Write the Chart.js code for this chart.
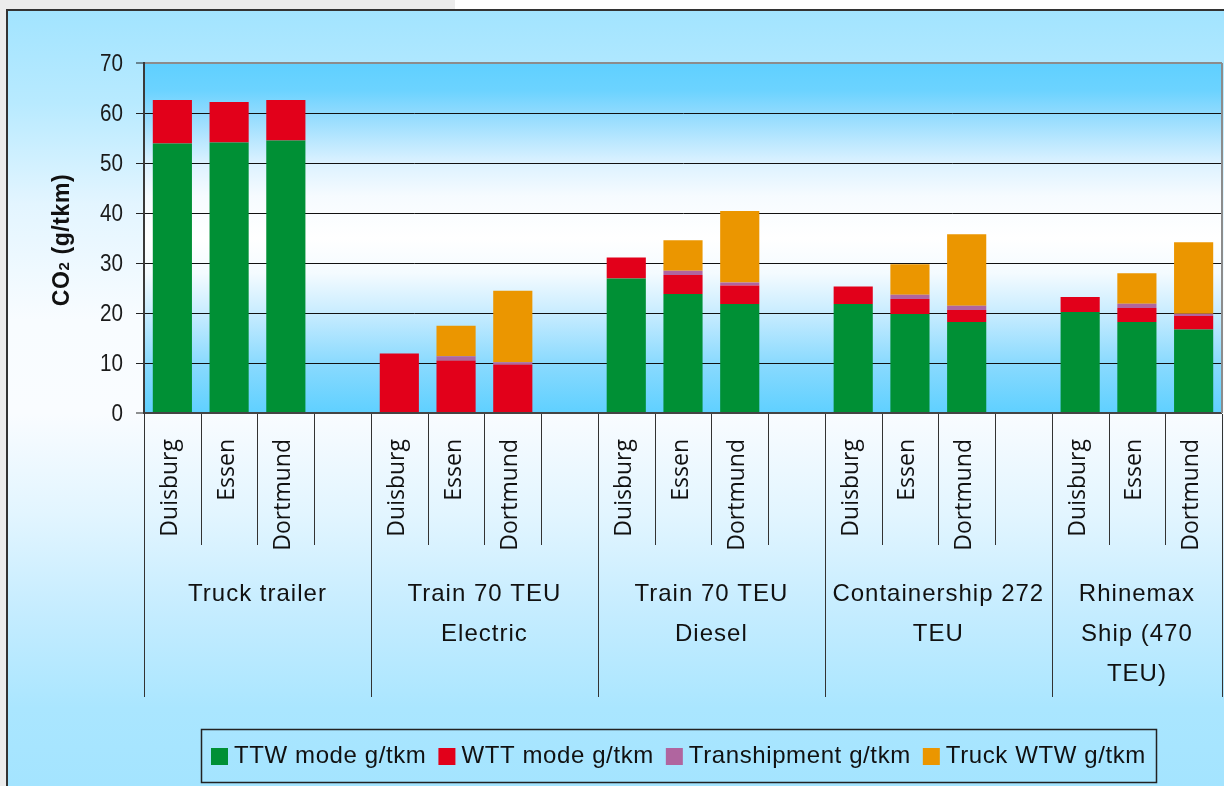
<!DOCTYPE html>
<html>
<head>
<meta charset="utf-8">
<title>CO2 per tkm by transport mode</title>
<script src="https://cdn.jsdelivr.net/npm/chart.js@4.4.1/dist/chart.umd.min.js"></script>
<style>
  html, body { margin: 0; padding: 0; background: #ececec; }
  canvas { display: block; }
</style>
</head>
<body>
<canvas id="co2-chart" width="1224" height="786"></canvas>
<script>
// Categories: one slot per terminal city, '' is the empty slot between modes
const cities = [
  'Duisburg', 'Essen', 'Dortmund', '',
  'Duisburg', 'Essen', 'Dortmund', '',
  'Duisburg', 'Essen', 'Dortmund', '',
  'Duisburg', 'Essen', 'Dortmund', '',
  'Duisburg', 'Essen', 'Dortmund'
];

// Transport modes (multi-line labels) and how many slots each one spans
const modes = [
  ['Truck trailer'],
  ['Train 70 TEU', 'Electric'],
  ['Train 70 TEU', 'Diesel'],
  ['Containership 272', 'TEU'],
  ['Rhinemax', 'Ship (470', 'TEU)']
];
const modeSlots = [4, 4, 4, 4, 3];

// Series
const seriesNames = ['TTW mode g/tkm', 'WTT mode g/tkm', 'Transhipment g/tkm', 'Truck WTW g/tkm'];
const ttwValues = [53.9, 54.1, 54.5, null, 0, 0, 0, null, 26.9, 23.8, 21.8, null, 21.8, 19.8, 18.2, null, 20.2, 18.2, 16.7];
const wttValues = [8.7, 8.1, 8.1, null, 11.9, 10.5, 9.7, null, 4.2, 3.8, 3.7, null, 3.5, 3.0, 2.4, null, 3.0, 2.8, 2.7];
const transhipValues = [0, 0, 0, null, 0, 0.85, 0.45, null, 0, 0.85, 0.6, null, 0, 0.85, 0.85, null, 0, 0.85, 0.45];
const truckWtwValues = [0, 0, 0, null, 0, 6.1, 14.3, null, 0, 6.1, 14.3, null, 0, 6.1, 14.3, null, 0, 6.1, 14.3];

const yTicks = [0, 10, 20, 30, 40, 50, 60, 70];

const seriesColors = ['#009035', '#e2001a', '#b0659f', '#eb9600'];

const FONT = '"Liberation Sans", Arial, sans-serif';

// Backgrounds: page, outer frame and plot area gradients
const backgroundPlugin = {
  id: 'backgrounds',
  beforeDraw(chart) {
    const { ctx, chartArea: area, width, height } = chart;
    ctx.save();
    ctx.fillStyle = '#ececec';
    ctx.fillRect(0, 0, width, height);
    ctx.fillStyle = '#ffffff';
    ctx.fillRect(455, 0, width - 455, 10);

    // outer frame
    const outer = ctx.createLinearGradient(0, 10, 0, height);
    outer.addColorStop(0, '#a2e4ff');
    outer.addColorStop(0.12, '#b8eaff');
    outer.addColorStop(0.25, '#e3f5ff');
    outer.addColorStop(0.4, '#f8fcff');
    outer.addColorStop(0.52, '#f9fcff');
    outer.addColorStop(0.65, '#e2f5ff');
    outer.addColorStop(0.78, '#c4ecff');
    outer.addColorStop(0.9, '#aae6ff');
    outer.addColorStop(1, '#a4e4ff');
    ctx.fillStyle = outer;
    ctx.fillRect(7, 10, width, height);
    ctx.strokeStyle = '#333';
    ctx.lineWidth = 2;
    ctx.strokeRect(7, 10, width + 10, height + 10);

    // plot area
    const plot = ctx.createLinearGradient(0, area.top, 0, area.bottom);
    plot.addColorStop(0, '#5fd0ff');
    plot.addColorStop(0.08, '#6cd3ff');
    plot.addColorStop(0.143, '#8fdafe');
    plot.addColorStop(0.286, '#dcf2ff');
    plot.addColorStop(0.38, '#f6fbff');
    plot.addColorStop(0.5, '#ffffff');
    plot.addColorStop(0.6, '#f4fbff');
    plot.addColorStop(0.714, '#c8ecff');
    plot.addColorStop(0.857, '#8adafe');
    plot.addColorStop(1, '#5fd0ff');
    ctx.fillStyle = plot;
    ctx.fillRect(area.left, area.top, area.right - area.left, area.bottom - area.top);
    ctx.restore();
  }
};

// Two-level category axis, condensed y labels, y title and boxed legend
const labelsPlugin = {
  id: 'labels',
  afterDraw(chart) {
    const { ctx, chartArea: area } = chart;
    const xs = chart.scales.x;
    const ys = chart.scales.y;
    const half = (xs.getPixelForValue(1) - xs.getPixelForValue(0)) / 2;
    const edge = (i) => i < cities.length ? xs.getPixelForValue(i) - half : xs.getPixelForValue(cities.length - 1) + half;

    ctx.save();

    // right border of the plot
    ctx.strokeStyle = '#8c8c8c';
    ctx.lineWidth = 2;
    ctx.beginPath();
    ctx.moveTo(area.right, area.top);
    ctx.lineTo(area.right, area.bottom);
    ctx.stroke();

    // y tick labels, narrow
    ctx.fillStyle = '#1a1a1a';
    ctx.font = '24px ' + FONT;
    ctx.textAlign = 'right';
    ctx.textBaseline = 'middle';
    yTicks.forEach(v => {
      ctx.save();
      ctx.translate(123, ys.getPixelForValue(v) + 1);
      ctx.scale(0.86, 1);
      ctx.fillText(String(v), 0, 0);
      ctx.restore();
    });

    // separators
    const groupEdges = [0];
    modeSlots.forEach(n => groupEdges.push(groupEdges[groupEdges.length - 1] + n));
    ctx.strokeStyle = '#333';
    ctx.lineWidth = 1;
    for (let i = 0; i <= cities.length; i++) {
      const x = Math.round(edge(i)) + 0.5;
      ctx.beginPath();
      ctx.moveTo(x, area.bottom + 1);
      ctx.lineTo(x, groupEdges.includes(i) ? 697 : 545);
      ctx.stroke();
    }

    // city labels, reading bottom to top
    ctx.fillStyle = '#111';
    ctx.font = '23px "Open Sans", sans-serif';
    ctx.textAlign = 'right';
    ctx.textBaseline = 'middle';
    cities.forEach((city, i) => {
      if (!city) return;
      ctx.save();
      ctx.translate(xs.getPixelForValue(i) - 2, 439);
      ctx.rotate(-Math.PI / 2);
      ctx.fillText(city, 0, 0);
      ctx.restore();
    });

    // mode labels
    ctx.font = '24px ' + FONT;
    ctx.letterSpacing = '1px';
    ctx.textAlign = 'center';
    ctx.textBaseline = 'alphabetic';
    modes.forEach((lines, g) => {
      const cx = (edge(groupEdges[g]) + edge(groupEdges[g + 1])) / 2;
      lines.forEach((line, k) => ctx.fillText(line, cx, 601 + 40 * k));
    });

    // y axis title: CO2 (g/tkm)
    ctx.save();
    ctx.translate(69, 240);
    ctx.rotate(-Math.PI / 2);
    ctx.letterSpacing = '0.6px';
    ctx.textAlign = 'left';
    const parts = [
      { t: 'CO', f: 'bold 23px ' + FONT, dy: 0 },
      { t: '2', f: 'bold 15px ' + FONT, dy: 0 },
      { t: ' (g/tkm)', f: 'bold 23px ' + FONT, dy: 0 }
    ];
    let total = 0;
    parts.forEach(p => { ctx.font = p.f; p.w = ctx.measureText(p.t).width; total += p.w; });
    let tx = -total / 2;
    parts.forEach(p => { ctx.font = p.f; ctx.fillText(p.t, tx, p.dy); tx += p.w; });
    ctx.restore();

    // legend
    ctx.font = '24px ' + FONT;
    ctx.letterSpacing = '0.6px';
    ctx.textAlign = 'left';
    const sq = 17, gapText = 6, gapItem = 12;
    const widths = chart.data.datasets.map(ds => ctx.measureText(ds.label).width);
    const content = widths.reduce((a, w) => a + sq + gapText + w, 0) + gapItem * (widths.length - 1);
    const boxLeft = 201;
    const boxW = Math.round(content + 20);
    ctx.strokeStyle = '#222';
    ctx.lineWidth = 1.5;
    ctx.strokeRect(boxLeft + 0.5, 729.5, boxW, 53);
    let lx = boxLeft + 10;
    chart.data.datasets.forEach((ds, i) => {
      ctx.fillStyle = ds.backgroundColor;
      ctx.fillRect(lx, 748, sq, sq);
      ctx.fillStyle = '#111';
      ctx.fillText(ds.label, lx + sq + gapText, 763);
      lx += sq + gapText + widths[i] + gapItem;
    });

    ctx.restore();
  }
};

const seriesData = [ttwValues, wttValues, transhipValues, truckWtwValues];

new Chart(document.getElementById('co2-chart'), {
  type: 'bar',
  data: {
    labels: cities,
    datasets: seriesNames.map((name, i) => ({
      label: name,
      data: seriesData[i],
      backgroundColor: seriesColors[i],
      borderWidth: 0,
      barPercentage: 0.69,
      categoryPercentage: 1
    }))
  },
  options: {
    responsive: false,
    devicePixelRatio: 1,
    animation: false,
    layout: { padding: { top: 63, right: 2, bottom: 373, left: 0 } },
    plugins: {
      legend: { display: false },
      tooltip: { enabled: false }
    },
    scales: {
      x: {
        stacked: true,
        display: false
      },
      y: {
        stacked: true,
        min: 0,
        max: 70,
        afterFit(scale) { scale.width = 144; },
        afterBuildTicks(scale) { scale.ticks = yTicks.map(v => ({ value: v })); },
        ticks: { display: false },
        grid: {
          color: (c) => c.tick.value === 70 ? '#8c8c8c' : (c.tick.value === 0 ? '#444' : '#111'),
          lineWidth: (c) => (c.tick.value === 70 || c.tick.value === 0) ? 2 : 1,
          tickColor: '#222',
          tickWidth: 1,
          tickLength: 8
        },
        border: { display: true, color: '#3a3a3a', width: 2 }
      }
    }
  },
  plugins: [backgroundPlugin, labelsPlugin]
});
</script>
</body>
</html>
